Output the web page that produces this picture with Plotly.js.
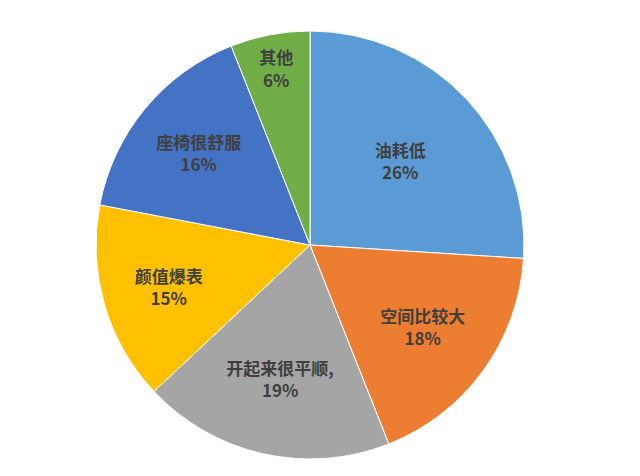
<!DOCTYPE html>
<html>
<head>
<meta charset="utf-8">
<script src="https://cdn.plot.ly/plotly-3.0.1.min.js"></script>
<style>
  html, body { margin: 0; padding: 0; background: #fff; }
  #chart { width: 640px; height: 476px; }
</style>
</head>
<body>
<div id="chart"></div>
<script>
// survey answers, clockwise from 12 o'clock
const labels = ['油耗低', '空间比较大', '开起来很平顺,', '颜值爆表', '座椅很舒服', '其他'];
const shares = [26, 18, 19, 15, 16, 6];
const colors = ['#5B9BD5', '#ED7D31', '#A5A5A5', '#FFC000', '#4472C4', '#70AD47'];

const trace = {
  type: 'pie',
  labels: labels,
  values: shares,
  sort: false,
  direction: 'clockwise',
  rotation: 0,
  marker: { colors: colors, line: { color: '#ffffff', width: 1 } },
  texttemplate: '%{label}<br>%{value}%',
  textposition: 'inside',
  insidetextorientation: 'horizontal',
  insidetextfont: { family: '"Noto Sans CJK SC", "Noto Sans", sans-serif', size: 17, color: '#3f3f3f', weight: 'bold' },
  hoverinfo: 'none',
  showlegend: false
}

const layout = {
  width: 640,
  height: 476,
  margin: { l: 0, r: 20, t: 31, b: 17 },
  paper_bgcolor: '#ffffff',
  showlegend: false
}

Plotly.newPlot('chart', [trace], layout, { staticPlot: true })
</script>
</body>
</html>
